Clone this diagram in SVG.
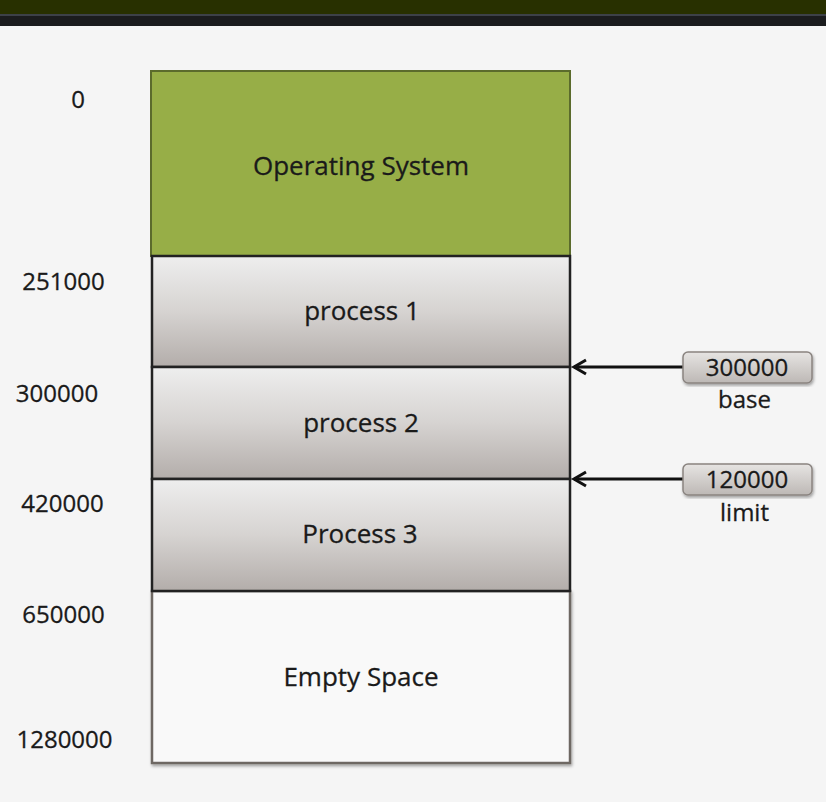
<svg xmlns="http://www.w3.org/2000/svg" width="826" height="802" viewBox="0 0 826 802">
<style>
.t{font-family:"Open Sans","Liberation Sans",sans-serif;fill:#1a1a1a;stroke:#1a1a1a;stroke-width:0.3;}
.big{font-size:26px;text-anchor:middle;}
.lab{font-size:24px;text-anchor:middle;}
.proc{fill:url(#pg);stroke:#222;stroke-width:2.5;}
.reg{fill:url(#rg);stroke:#8a8480;stroke-width:1.5;}
.conn{stroke:#111;stroke-width:3;fill:none;}
</style>
<defs>
<linearGradient id="pg" x1="0" y1="0" x2="0" y2="1">
<stop offset="0" stop-color="#eeeeee"/>
<stop offset="0.5" stop-color="#d6d3d1"/>
<stop offset="1" stop-color="#b3adaa"/>
</linearGradient>
<linearGradient id="rg" x1="0" y1="0" x2="0" y2="1">
<stop offset="0" stop-color="#e6e4e2"/>
<stop offset="1" stop-color="#bdb8b5"/>
</linearGradient>
<filter id="sh" x="-5%" y="-5%" width="110%" height="115%">
<feDropShadow dx="1" dy="2" stdDeviation="1.5" flood-color="#000" flood-opacity="0.35"/>
</filter>
</defs>
<rect x="0" y="0" width="826" height="802" fill="#f5f5f5"/>
<rect x="0" y="0" width="826" height="14" fill="#283000"/>
<rect x="0" y="14" width="826" height="2" fill="#3d4148"/>
<rect x="0" y="16" width="826" height="10" fill="#1b1c1e"/>

<g id="os">
<rect x="151" y="71" width="419" height="185" fill="#97ae47" stroke="#5b6b2c" stroke-width="2"/>
<text class="t big" x="361" y="175">Operating System</text>
</g>
<g id="empty">
<rect x="152" y="591" width="418" height="172" fill="#f9f9f9" stroke="#6e6764" stroke-width="2.5" filter="url(#sh)"/>
<text class="t big" x="361" y="686">Empty Space</text>
</g>
<g id="p1">
<rect class="proc" x="152" y="256" width="418" height="111"/>
<text class="t big" x="362" y="320">process 1</text>
</g>
<g id="p2">
<rect class="proc" x="152" y="367" width="418" height="112"/>
<text class="t big" x="361" y="432">process 2</text>
</g>
<g id="p3">
<rect class="proc" x="152" y="479" width="418" height="112"/>
<text class="t big" x="360" y="543">Process 3</text>
</g>

<g id="addr">
<text class="t lab" x="78" y="108">0</text>
<text class="t lab" x="63.5" y="290">251000</text>
<text class="t lab" x="57" y="402">300000</text>
<text class="t lab" x="62.5" y="512">420000</text>
<text class="t lab" x="63.5" y="623">650000</text>
<text class="t lab" x="64.5" y="748">1280000</text>
</g>

<g id="connectors">
<line class="conn" x1="683" y1="367" x2="574" y2="367"/>
<polyline class="conn" points="586,360 574,367 586,374"/>
<line class="conn" x1="683" y1="479" x2="574" y2="479"/>
<polyline class="conn" points="586,472 574,479 586,486"/>
</g>

<g id="base">
<rect class="reg" x="683" y="352" width="129" height="31" rx="5" filter="url(#sh)"/>
<text class="t lab" x="747" y="376">300000</text>
<text class="t lab" x="744.5" y="408">base</text>
</g>
<g id="limit">
<rect class="reg" x="683" y="464" width="129" height="31" rx="5" filter="url(#sh)"/>
<text class="t lab" x="747" y="488">120000</text>
<text class="t lab" x="744.5" y="521">limit</text>
</g>
</svg>
